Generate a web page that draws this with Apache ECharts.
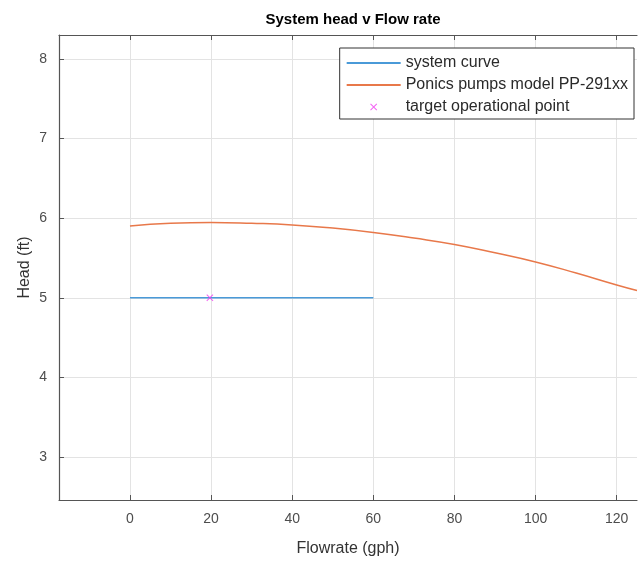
<!DOCTYPE html>
<html>
<head>
<meta charset="utf-8">
<script src="https://cdn.jsdelivr.net/npm/echarts@6/dist/echarts.min.js"></script>
<style>
  html,body{margin:0;padding:0;background:#fff;}
  #chart{width:638px;height:563px;}
</style>
</head>
<body>
<div id="chart"></div>
<script>
// System head v Flow rate — MATLAB-style figure
const xTicks = [0, 20, 40, 60, 80, 100, 120];
const yTicks = [3, 4, 5, 6, 7, 8];

// system curve: flat head of 5 ft up to 60 gph
const sysFlow = [0, 60];
const sysHead = [5, 5];

// pump curve
const pumpFlow = [0, 10, 20, 30, 40, 50, 60, 70, 80, 90, 100, 110, 120, 125];
const pumpHead = [5.90, 5.935, 5.945, 5.935, 5.915, 5.875, 5.82, 5.75, 5.67, 5.565, 5.45, 5.31, 5.16, 5.09];

// target operational point
const target = [[19.7, 5.0]];

const FONT = 'Liberation Sans, Arial, sans-serif';
const AXC = '#4d4d4d';

const zip = (a, b) => a.map((v, i) => [v, b[i]]);

const xBase = {
  type: 'value', min: -17.5, max: 125,
  axisLine: {onZero: false, lineStyle: {color: '#555', width: 1.2}},
  axisTick: {inside: true, length: 5, customValues: xTicks, lineStyle: {color: '#555'}},
  splitLine: {show: true, customValues: xTicks, lineStyle: {color: '#e3e3e3'}},
};

const chart = echarts.init(document.getElementById('chart'), null, {renderer: 'canvas'});
chart.setOption({
  backgroundColor: '#fff',
  animation: false,
  title: {
    text: 'System head v Flow rate', left: 348, top: 7, textAlign: 'center',
    textStyle: {fontFamily: FONT, fontSize: 15, fontWeight: 'bold', color: '#000'}
  },
  grid: {left: 59, right: 1, top: 35, bottom: 63},
  legend: {
    orient: 'vertical', right: 4, top: 48,
    backgroundColor: '#fff', borderColor: '#333', borderWidth: 1, borderRadius: 0,
    padding: [7, 6, 4, 6], itemGap: 6, itemWidth: 54, itemHeight: 7,
    textStyle: {fontFamily: FONT, fontSize: 16, color: '#2a2a2a'},
    data: [
      {name: 'system curve', itemStyle: {opacity: 0}},
      {name: 'Ponics pumps model PP-291xx', itemStyle: {opacity: 0}},
      {name: 'target operational point'}
    ]
  },
  xAxis: [
    {
      ...xBase, position: 'bottom',
      name: 'Flowrate (gph)', nameLocation: 'middle', nameGap: 41,
      nameTextStyle: {fontFamily: FONT, fontSize: 16, color: '#333'},
      axisLabel: {customValues: xTicks, fontFamily: FONT, fontSize: 14, color: AXC, margin: 12}
    },
    {...xBase, position: 'top', axisLabel: {show: false}, splitLine: {show: false}}
  ],
  yAxis: {
    type: 'value', min: 2.46, max: 8.3,
    name: 'Head (ft)', nameLocation: 'middle', nameGap: 26, nameMoveOverlap: false,
    nameTextStyle: {fontFamily: FONT, fontSize: 16, color: '#333'},
    axisLine: {onZero: false, lineStyle: {color: '#555', width: 1.2}},
    axisTick: {inside: true, length: 5, customValues: yTicks, lineStyle: {color: '#555'}},
    axisLabel: {customValues: yTicks, fontFamily: FONT, fontSize: 14, color: AXC, margin: 12},
    splitLine: {show: true, customValues: yTicks, lineStyle: {color: '#e3e3e3'}}
  },
  series: [
    {
      name: 'system curve', type: 'line', data: zip(sysFlow, sysHead),
      symbol: 'none', color: '#4a9ad8', lineStyle: {width: 1.5}
    },
    {
      name: 'Ponics pumps model PP-291xx', type: 'line', data: zip(pumpFlow, pumpHead),
      symbol: 'none', smooth: true, color: '#e8784a', lineStyle: {width: 1.5}
    },
    {
      name: 'target operational point', type: 'scatter', data: target, z: 5,
      symbol: 'path://M0,1L1,0L5,4L9,0L10,1L6,5L10,9L9,10L5,6L1,10L0,9L4,5Z',
      symbolSize: 7, color: '#f03cf0'
    }
  ]
});
</script>
</body>
</html>
